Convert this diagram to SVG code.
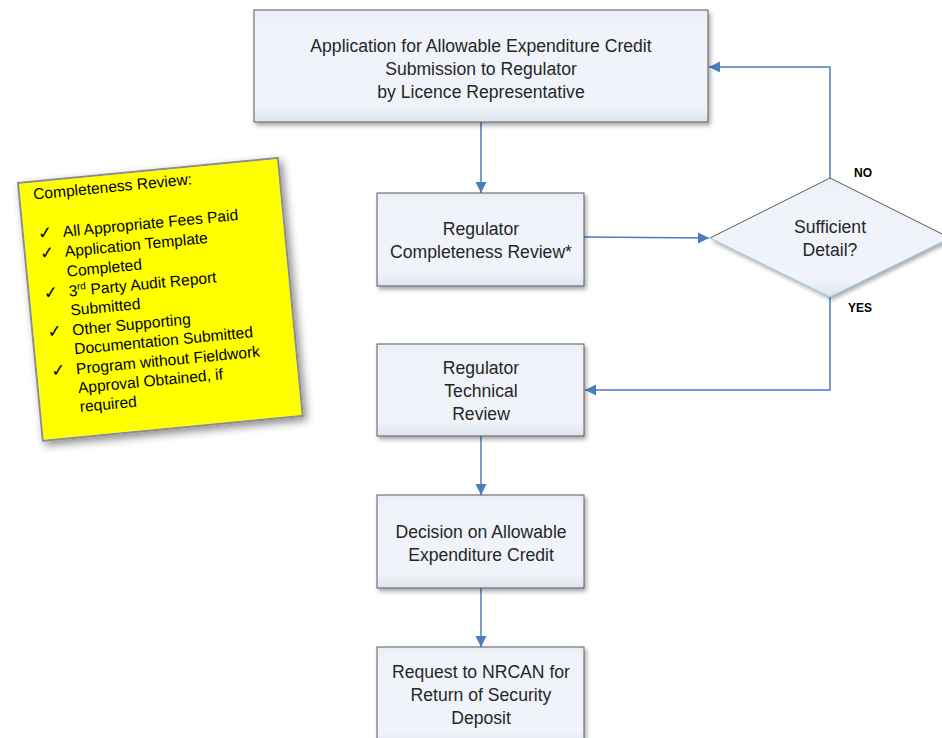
<svg xmlns="http://www.w3.org/2000/svg" width="942" height="738" viewBox="0 0 942 738">
<defs>
<linearGradient id="bg" x1="0" y1="0" x2="0" y2="1">
<stop offset="0" stop-color="#e9eef5"/>
<stop offset="0.15" stop-color="#f0f4fa"/>
<stop offset="0.85" stop-color="#f0f4fa"/>
<stop offset="1" stop-color="#dde4ee"/>
</linearGradient>
<filter id="sh" x="-10%" y="-10%" width="130%" height="130%">
<feDropShadow dx="2" dy="3" stdDeviation="2" flood-color="#000" flood-opacity="0.35"/>
</filter>
<filter id="sh2" x="-10%" y="-10%" width="130%" height="130%">
<feDropShadow dx="3" dy="4" stdDeviation="4" flood-color="#000" flood-opacity="0.45"/>
</filter>
<marker id="ah" markerWidth="12" markerHeight="12" refX="11" refY="6" orient="auto" markerUnits="userSpaceOnUse">
<path d="M0,0.5 L11,6 L0,11.5 Z" fill="#4a7ebb"/>
</marker>
<style>
.box{fill:url(#bg);stroke:#5a5a5a;stroke-width:1;filter:url(#sh)}
.t{font-family:"Liberation Sans",Arial,sans-serif;font-size:17.6px;fill:#262626;text-anchor:middle}
.n{font-family:"Liberation Sans",Arial,sans-serif;font-size:15.6px;fill:#000}
.ck{font-family:"DejaVu Sans",sans-serif;font-size:17px;fill:#000}
.lbl{font-family:"Liberation Sans",Arial,sans-serif;font-size:12px;font-weight:bold;fill:#000}
.c{fill:none;stroke:#4a7ebb;stroke-width:1.5;marker-end:url(#ah)}
</style>
</defs>

<g id="note" transform="translate(18,183) rotate(-5.5)">
<rect x="0" y="0" width="261" height="259" fill="#ffff00" stroke="#8c8c8c" stroke-width="2" filter="url(#sh2)"/>
<text class="n" x="14" y="18">Completeness Review:</text>
<text class="ck" x="15" y="58">✓</text><text class="n" x="40" y="58">All Appropriate Fees Paid</text>
<text class="ck" x="15" y="78">✓</text><text class="n" x="40" y="78">Application Template</text>
<text class="n" x="40" y="98">Completed</text>
<text class="ck" x="15" y="118">✓</text><text class="n" x="40" y="118">3<tspan font-size="10" dy="-6">rd</tspan><tspan dy="6"> Party Audit Report</tspan></text>
<text class="n" x="40" y="137">Submitted</text>
<text class="ck" x="15" y="157">✓</text><text class="n" x="40" y="157">Other Supporting</text>
<text class="n" x="40" y="176">Documentation Submitted</text>
<text class="ck" x="15" y="196">✓</text><text class="n" x="40" y="196">Program without Fieldwork</text>
<text class="n" x="40" y="215">Approval Obtained, if</text>
<text class="n" x="40" y="234">required</text>
</g>

<g id="connectors">
<line class="c" x1="481" y1="122" x2="481" y2="193"/>
<line class="c" x1="584" y1="237" x2="709" y2="238"/>
<polyline class="c" points="830,178 830,67 709,67"/>
<polyline class="c" points="830,297 830,390 585,390"/>
<line class="c" x1="481" y1="436" x2="481" y2="495"/>
<line class="c" x1="481" y1="588" x2="481" y2="647"/>
</g>

<g id="app">
<rect class="box" x="254" y="10" width="454" height="112"/>
<text class="t" x="481" y="52">Application for Allowable Expenditure Credit</text>
<text class="t" x="481" y="75">Submission to Regulator</text>
<text class="t" x="481" y="98">by Licence Representative</text>
</g>

<g id="completeness">
<rect class="box" x="377" y="193" width="207" height="93"/>
<text class="t" x="481" y="235">Regulator</text>
<text class="t" x="481" y="258">Completeness Review*</text>
</g>

<g id="decision">
<polygon points="710,238 830,178 950,238 830,297" fill="url(#bg)" filter="url(#sh)"/>
<polyline points="710,238 830,178 950,238" fill="none" stroke="#5a5a5a" stroke-width="1"/>
<polyline points="710,238 830,297 950,238" fill="none" stroke="#8fd0e0" stroke-width="1"/>
<text class="t" x="830" y="233">Sufficient</text>
<text class="t" x="830" y="256">Detail?</text>
</g>

<text id="no" class="lbl" x="854" y="177">NO</text>
<text id="yes" class="lbl" x="848" y="312">YES</text>

<g id="technical">
<rect class="box" x="377" y="344" width="207" height="92"/>
<text class="t" x="481" y="374">Regulator</text>
<text class="t" x="481" y="397">Technical</text>
<text class="t" x="481" y="420">Review</text>
</g>

<g id="decisionbox">
<rect class="box" x="377" y="495" width="207" height="93"/>
<text class="t" x="481" y="538">Decision on Allowable</text>
<text class="t" x="481" y="561">Expenditure Credit</text>
</g>

<g id="request">
<rect class="box" x="377" y="647" width="207" height="100"/>
<text class="t" x="481" y="678">Request to NRCAN for</text>
<text class="t" x="481" y="701">Return of Security</text>
<text class="t" x="481" y="724">Deposit</text>
</g>
</svg>
